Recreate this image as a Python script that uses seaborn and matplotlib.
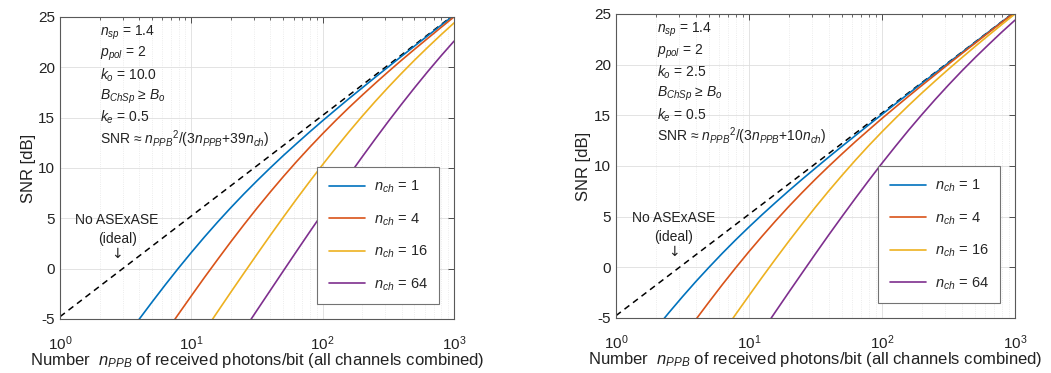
import numpy as np
import pandas as pd
import seaborn as sns
import matplotlib
import matplotlib.pyplot as plt
from matplotlib.ticker import LogLocator, NullFormatter

nan = np.nan

# received photons per bit (x axis, log spaced)
n_ppb = [1, 1.259, 1.585, 1.995, 2.512, 3.162, 3.981, 5.012, 6.310, 7.943,
         10, 12.59, 15.85, 19.95, 25.12, 31.62, 39.81, 50.12, 63.10, 79.43,
         100, 125.9, 158.5, 199.5, 251.2, 316.2, 398.1, 501.2, 631.0, 794.3, 1000]

# ideal (no ASExASE) dashed line
ideal_x = [1, 1000]
ideal_snr = [-4.77, 25.23]

# left panel, k_o = 10.0
left_nch1 = [nan] * 6 + [-5.07, -3.33, -1.63, 0.02, 1.61, 3.15, 4.63, 6.05, 7.42, 8.73,
                         10.00, 11.23, 12.41, 13.57, 14.70, 15.80, 16.89, 17.95, 19.01,
                         20.05, 21.09, 22.12, 23.14, 24.16, 25.17]
left_nch4 = [nan] * 8 + [-6.43, -4.55, -2.70, -0.87, 0.91, 2.66, 4.36, 6.01, 7.60, 9.14,
                         10.62, 12.04, 13.41, 14.73, 16.00, 17.22, 18.41, 19.57, 20.70,
                         21.80, 22.88, 23.95, 25.01]
left_nch16 = [nan] * 11 + [-6.21, -4.27, -2.35, -0.45, 1.43, 3.29, 5.11, 6.90, 8.64, 10.34,
                           11.99, 13.59, 15.13, 16.61, 18.03, 19.40, 20.72, 21.99, 23.22, 24.41]
left_nch64 = [nan] * 14 + [-6.10, -4.13, -2.18, -0.23, 1.71, 3.63, 5.53, 7.42, 9.27, 11.09,
                           12.88, 14.63, 16.33, 17.98, 19.58, 21.12, 22.60]

# right panel, k_o = 2.5
right_nch1 = [nan] * 3 + [-6.04, -4.44, -2.90, -1.41, 0.01, 1.39, 2.71, 3.98, 5.21, 6.40,
                          7.56, 8.69, 9.79, 10.88, 11.95, 13.00, 14.05, 15.09, 16.12, 17.14,
                          18.16, 19.17, 20.18, 21.19, 22.20, 23.21, 24.21, 25.21]
right_nch4 = [nan] * 6 + [-5.16, -3.41, -1.70, -0.05, 1.55, 3.09, 4.58, 6.01, 7.38, 8.70,
                          9.97, 11.20, 12.40, 13.55, 14.69, 15.79, 16.88, 17.95, 19.00,
                          20.05, 21.09, 22.11, 23.14, 24.16, 25.17]
right_nch16 = [nan] * 8 + [-6.53, -4.64, -2.79, -0.96, 0.83, 2.58, 4.28, 5.94, 7.54, 9.08,
                           10.57, 12.00, 13.37, 14.69, 15.97, 17.20, 18.39, 19.55, 20.68,
                           21.79, 22.88, 23.95, 25.00]
right_nch64 = [nan] * 11 + [-6.31, -4.37, -2.45, -0.55, 1.34, 3.20, 5.02, 6.81, 8.56, 10.27,
                            11.92, 13.53, 15.07, 16.56, 17.99, 19.37, 20.69, 21.96, 23.20, 24.39]

nch_labels = ['1', '4', '16', '64']
colors = ['#0072BD', '#D95319', '#EDB120', '#7E2F8E']

left_params = [r'$n_{sp}$ = 1.4', r'$p_{pol}$ = 2', r'$k_o$ = 10.0',
               r'$B_{ChSp}$ ≥ $B_o$', r'$k_e$ = 0.5',
               r'SNR ≈ $n_{PPB}$$^2$/(3$n_{PPB}$+39$n_{ch}$)']
right_params = [r'$n_{sp}$ = 1.4', r'$p_{pol}$ = 2', r'$k_o$ = 2.5',
                r'$B_{ChSp}$ ≥ $B_o$', r'$k_e$ = 0.5',
                r'SNR ≈ $n_{PPB}$$^2$/(3$n_{PPB}$+10$n_{ch}$)']

sns.set_style('white')
plt.rcParams['font.family'] = ['Liberation Sans', 'DejaVu Sans']
plt.rcParams['mathtext.fontset'] = 'custom'
plt.rcParams['mathtext.rm'] = 'Liberation Sans'
plt.rcParams['mathtext.it'] = 'Liberation Sans:italic'
plt.rcParams['mathtext.bf'] = 'Liberation Sans:bold'
plt.rcParams['axes.unicode_minus'] = False


def draw_panel(ax, curves, params):
    x = np.array(n_ppb)
    sns.lineplot(x=ideal_x, y=ideal_snr, color='black', lw=1.1, dashes=False,
                 linestyle=(0, (4, 3)), ax=ax, label='_nolegend_')
    for y, lab, c in zip(curves, nch_labels, colors):
        y = np.array(y)
        m = ~np.isnan(y)
        sns.lineplot(x=x[m], y=y[m], color=c, lw=1.2, ax=ax,
                     label=r'$n_{ch}$ = ' + lab)

    ax.set_xscale('log')
    ax.set_xlim(1, 1000)
    ax.set_ylim(-5, 25)
    ax.set_yticks([-5, 0, 5, 10, 15, 20, 25])
    ax.xaxis.set_major_locator(LogLocator(base=10, numticks=10))
    ax.xaxis.set_minor_locator(LogLocator(base=10, subs=np.arange(2, 10), numticks=10))
    ax.xaxis.set_minor_formatter(NullFormatter())

    ax.grid(True, which='major', color='#dedede', lw=0.6)
    ax.grid(True, which='minor', axis='x', color='#e6e6e6', lw=0.6, linestyle=':')
    ax.tick_params(which='both', direction='in', top=True, right=True,
                   color='0.3', labelsize=11, labelcolor='#222222')
    ax.tick_params(which='major', length=4, width=0.7)
    ax.tick_params(which='minor', length=2, width=0.6)
    ax.tick_params(axis='x', which='major', pad=11)
    for s in ax.spines.values():
        s.set_color('0.35')
        s.set_linewidth(0.8)

    ax.set_ylabel('SNR [dB]', fontsize=12, color='#222222')
    ax.yaxis.set_label_coords(-0.062, 0.5)
    ax.set_xlabel(r'Number  $n_{PPB}$ of received photons/bit (all channels combined)',
                  fontsize=12, color='#222222', labelpad=-1.5)

    for i, t in enumerate(params):
        ax.text(2.02, 23.4 - 2.1 * i, t, fontsize=10, va='center', ha='left',
                color='#222222')

    ax.text(2.72, 3.9, 'No ASExASE\n(ideal)', fontsize=10, ha='center', va='center',
            linespacing=1.45, color='#222222')
    ax.text(2.72, 1.5, '↓', fontsize=10, ha='center', va='center', color='#222222',
            family=['DejaVu Sans'])

    leg = ax.legend(loc='lower right', fontsize=10.5, frameon=True, fancybox=False,
                    edgecolor='0.45', framealpha=1, labelspacing=1.1, handlelength=2.5,
                    handletextpad=0.6, borderpad=0.8, borderaxespad=1.0)
    leg.get_frame().set_linewidth(0.8)


fig = plt.figure(figsize=(10.51, 3.73), dpi=100)
ax1 = fig.add_axes([0.0571, 0.1448, 0.3749, 0.8097])
ax2 = fig.add_axes([0.5861, 0.1475, 0.3796, 0.8150])

draw_panel(ax1, [left_nch1, left_nch4, left_nch16, left_nch64], left_params)
draw_panel(ax2, [right_nch1, right_nch4, right_nch16, right_nch64], right_params)

fig.savefig('out.png', dpi=100)
